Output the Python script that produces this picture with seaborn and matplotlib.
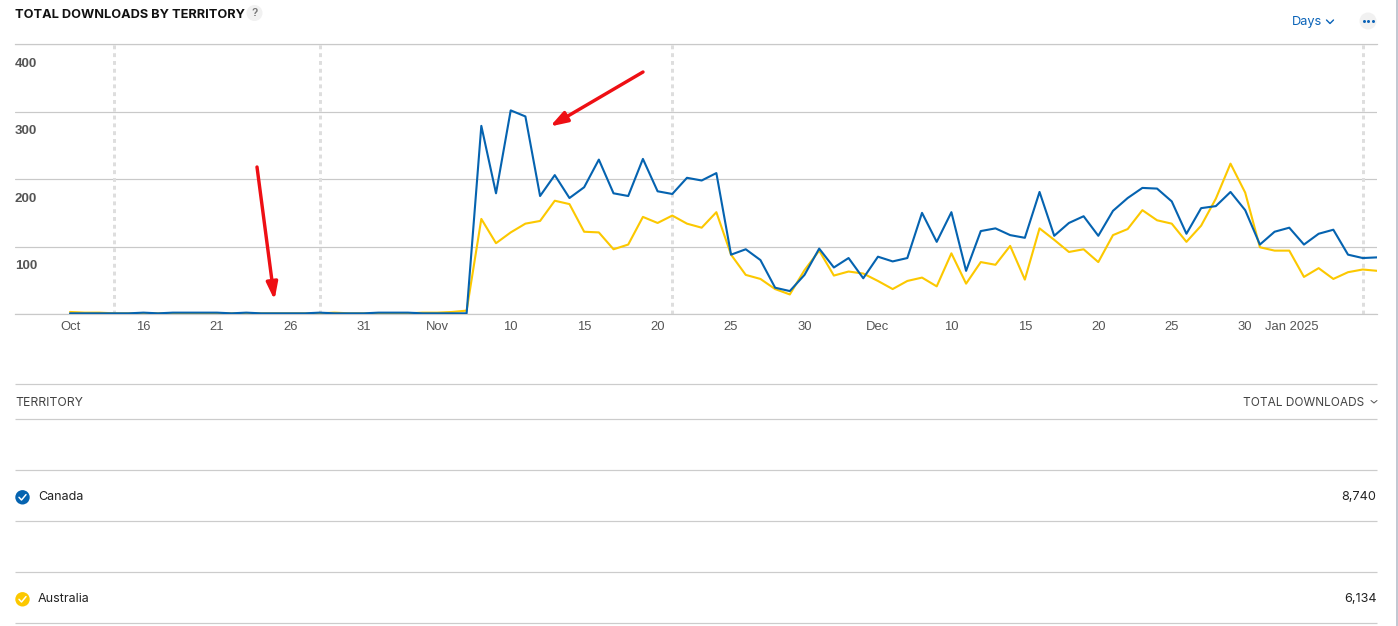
import matplotlib
matplotlib.use("Agg")
import matplotlib.pyplot as plt
import matplotlib.dates as mdates
from matplotlib.patches import Circle
from matplotlib.transforms import ScaledTranslation
import numpy as np
import pandas as pd
import seaborn as sns

W, H = 1398, 626
DPI = 100
px = 0.72  # points per pixel at this dpi

dates = pd.date_range("2024-10-11", "2025-01-08", freq="D")

canada = [1, 1, 1, 1, 1, 2, 1, 2, 2, 2, 2, 1, 2, 1, 1, 1, 1, 2, 1, 1, 1, 2, 2, 2, 1, 1, 1, 1,
          279, 179, 302, 293, 175, 206, 172, 188, 229, 179, 175, 230, 182, 178, 202, 198, 209,
          88, 96, 80, 39, 34, 58,
          97, 69, 83, 53, 85, 78, 83, 150, 107, 151, 64, 123, 127, 117, 113, 181, 116, 135, 145,
          116, 153, 172, 187, 186, 167, 119, 157, 160, 181, 154, 103,
          122, 128, 103, 119, 125, 88, 83, 84]
australia = [3, 2, 2, 1, 1, 1, 1, 1, 1, 1, 1, 1, 1, 1, 1, 1, 1, 1, 2, 1, 1, 1, 1, 1, 2, 2, 3, 5,
             141, 105, 121, 134, 138, 168, 163, 122, 121, 96, 103, 144, 135, 146, 134, 128, 151,
             88, 58, 52, 37, 29, 65,
             94, 57, 63, 60, 49, 37, 49, 54, 41, 90, 45, 77, 73, 101, 51, 127, 110, 92, 96,
             77, 117, 126, 154, 139, 134, 107, 131, 171, 223, 180, 99,
             94, 94, 55, 68, 52, 62, 66, 64]

territories = ["Canada", "Australia"]
totals = ["8,740", "6,134"]
colors = {"Canada": "#0563B0", "Australia": "#FCC800"}
y_ticks = [0, 100, 200, 300, 400]
y_labels = ["", "100", "200", "300", "400"]
x_tick_dates = ["2024-10-11", "2024-10-16", "2024-10-21", "2024-10-26", "2024-10-31",
                "2024-11-05", "2024-11-10", "2024-11-15", "2024-11-20", "2024-11-25", "2024-11-30",
                "2024-12-05", "2024-12-10", "2024-12-15", "2024-12-20", "2024-12-25", "2024-12-30",
                "2025-01-04"]
x_tick_labels = ["Oct", "16", "21", "26", "31", "Nov", "10", "15", "20", "25", "30",
                 "Dec", "10", "15", "20", "25", "30", "Jan 2025"]
marker_dates = ["2024-10-14", "2024-10-28", "2024-11-21", "2025-01-07"]

df = pd.DataFrame({
    "date": np.concatenate([dates, dates]),
    "downloads": australia + canada,
    "territory": ["Australia"] * len(dates) + ["Canada"] * len(dates),
})

sns.set_theme(style="white")
plt.rcParams["font.family"] = ["Liberation Sans", "DejaVu Sans"]

fig = plt.figure(figsize=(W / DPI, H / DPI), dpi=DPI, facecolor="white")

# main chart: pixel box x 15..1377, y 44.3..314
L, R, T, B = 15, 1377, 44.3, 314
ax = fig.add_axes([L / W, 1 - B / H, (R - L) / W, (B - T) / H], facecolor="none")
sns.lineplot(data=df, x="date", y="downloads", hue="territory",
             hue_order=["Australia", "Canada"], palette=colors,
             linewidth=2.1 * px, legend=False, ax=ax, errorbar=None, zorder=3)

d0 = mdates.date2num(dates[0])
day_px = 14.69
ax.set_xlim(d0 - (70 - L) / day_px, d0 + (R - 70) / day_px)
ax.set_ylim(0, 400)
ax.set_xlabel("")
ax.set_ylabel("")

for d in marker_dates:
    ax.axvline(pd.Timestamp(d), color="#DEDEDE", lw=3 * px, ls=(0, (1.3, 1.3)), zorder=1)

ax.yaxis.grid(True, color="#C9C9C9", lw=1.2 * px, zorder=0)
ax.xaxis.grid(False)
for s in ["left", "right"]:
    ax.spines[s].set_visible(False)
for s in ["top", "bottom"]:
    ax.spines[s].set_color("#C9C9C9")
    ax.spines[s].set_linewidth(1.2 * px)

ax.set_yticks(y_ticks)
ax.set_yticklabels(y_labels, fontsize=9.6, fontweight="bold", color="#555555")
ax.tick_params(axis="y", length=0, pad=-16)
offset = ScaledTranslation(0, -18 / DPI, fig.dpi_scale_trans)
for lab in ax.get_yticklabels():
    lab.set_transform(lab.get_transform() + offset)

ax.set_xticks([pd.Timestamp(d) for d in x_tick_dates])
ax.set_xticklabels(x_tick_labels, fontsize=9.4, color="#555555")
ax.tick_params(axis="x", length=0, pad=5)
ax.get_xticklabels()[-1].set_ha("right")

# overlay in pixel coordinates for the page furniture
ov = fig.add_axes([0, 0, 1, 1], facecolor="none", zorder=5)
ov.set_xlim(0, W)
ov.set_ylim(H, 0)
ov.axis("off")

INTER = ["Inter", "DejaVu Sans"]
ov.text(15, 14.5, "TOTAL DOWNLOADS BY TERRITORY", fontsize=9.2, fontweight="bold",
        family=INTER, color="#111111", va="center", ha="left")
ov.add_patch(Circle((254.5, 13), 8, fc="#F1F1F1", ec="none"))
ov.text(254.5, 12.5, "?", fontsize=7.5, fontweight="bold", color="#777777",
        va="center", ha="center")

ov.text(1292, 22, "Days", fontsize=9.2, color="#0A63B8", family=INTER, va="center", ha="left")
ov.plot([1326.5, 1330, 1333.5], [20, 23.5, 20], color="#0A63B8", lw=1.4 * px)
ov.add_patch(Circle((1368, 21), 8.5, fc="#F1F1F1", ec="none"))
ov.plot([1363.5, 1368, 1372.5], [21, 21, 21], ls="none", marker="o", ms=3 * px, mew=0,
        color="#0A63B8")

for yy in [384, 419, 470, 521, 572, 623]:
    ov.plot([15, 1377], [yy, yy], color="#CCCCCC", lw=1.2 * px, solid_capstyle="butt")
ov.plot([1397, 1397], [0, H], color="#B0B6C4", lw=1.5 * px)

ov.text(15, 402.5, "TERRITORY", fontsize=8.8, color="#444444", family=INTER, va="center", ha="left")
ov.text(1364.5, 402.5, "TOTAL DOWNLOADS", fontsize=8.55, color="#444444", family=INTER,
        va="center", ha="right")
ov.plot([1371, 1374, 1377], [400.5, 403, 400.5], color="#555555", lw=1 * px)

rows_y = [496.5, 598.5]
for name, tot, yy in zip(territories, totals, rows_y):
    ov.text(38, yy, name, fontsize=9, color="#222222", family=INTER, va="center", ha="left")
    ov.text(1376.5, yy, tot, fontsize=9.1, color="#222222", family=INTER, va="center", ha="right")
    cy = yy + 0.8
    ov.add_patch(Circle((22.5, cy), 7.2, fc=colors[name], ec="none"))
    ov.plot([19, 21.5, 26], [cy, cy + 2.7, cy - 2.7], color="white", lw=1.5 * px)

# red hand-drawn arrows
for (x0, y0), (x1, y1) in [((257, 167), (274.5, 300)), ((643, 72), (550, 126.5))]:
    ov.annotate("", xy=(x1, y1), xytext=(x0, y0), xycoords="data", textcoords="data",
                arrowprops=dict(arrowstyle="-|>,head_length=0.85,head_width=0.28",
                                color="#EE0F14", lw=3.4 * px, shrinkA=0, shrinkB=0))

fig.savefig("out.png", dpi=DPI, facecolor="white")
